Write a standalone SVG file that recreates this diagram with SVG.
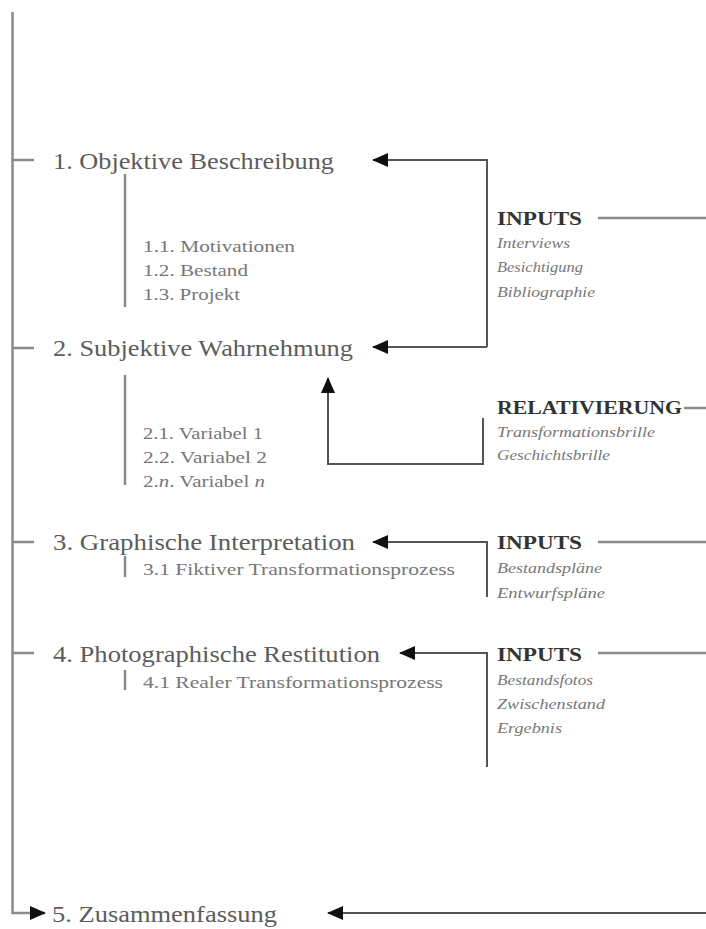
<svg xmlns="http://www.w3.org/2000/svg" width="706" height="929" viewBox="0 0 706 929">
<style>
.h{font-family:"Liberation Serif","Times New Roman",serif;font-size:23px;fill:#5c5c5c}
.s{font-family:"Liberation Serif","Times New Roman",serif;font-size:17px;fill:#777}
.b{font-family:"Liberation Serif","Times New Roman",serif;font-size:18px;font-weight:bold;fill:#333}
.i{font-family:"Liberation Serif","Times New Roman",serif;font-size:14px;font-style:italic;fill:#777}
.ln{stroke:#8a8a8a;stroke-width:2.5;fill:none}
.ar{stroke:#555;stroke-width:2;fill:none}
</style>
<defs>
<marker id="ah" viewBox="0 0 16 14" refX="15" refY="7" markerWidth="16" markerHeight="14" markerUnits="userSpaceOnUse" orient="auto">
<path d="M0,0 L16,7 L0,14 z" fill="#111"/>
</marker>
</defs>
<g id="connectors">
<path class="ln" d="M12.5,12 V913 H45" marker-end="url(#ah)"/>
<line class="ln" x1="12" y1="160" x2="34" y2="160"/>
<line class="ln" x1="12" y1="348" x2="34" y2="348"/>
<line class="ln" x1="12" y1="542" x2="34" y2="542"/>
<line class="ln" x1="12" y1="653" x2="34" y2="653"/>
<line class="ln" x1="125" y1="174" x2="125" y2="307"/>
<line class="ln" x1="125" y1="375" x2="125" y2="485"/>
<line class="ln" x1="125" y1="556" x2="125" y2="577"/>
<line class="ln" x1="125" y1="670" x2="125" y2="690"/>
<path class="ar" d="M487,347 H373" marker-end="url(#ah)"/>
<path class="ar" d="M487,347 V160 H373" marker-end="url(#ah)"/>
<line class="ln" x1="598" y1="218" x2="706" y2="218"/>
<path class="ar" d="M483,418 V464 H328 V378" marker-end="url(#ah)"/>
<line class="ln" x1="684" y1="408" x2="706" y2="408"/>
<path class="ar" d="M487,597 V542 H373" marker-end="url(#ah)"/>
<line class="ln" x1="598" y1="542" x2="706" y2="542"/>
<path class="ar" d="M487,767 V653 H400" marker-end="url(#ah)"/>
<line class="ln" x1="598" y1="653" x2="706" y2="653"/>
<path class="ar" d="M706,913 H328" marker-end="url(#ah)"/>
</g>
<g id="n1">
<text class="h" x="53" y="169" textLength="281" lengthAdjust="spacingAndGlyphs">1. Objektive Beschreibung</text>
<text class="s" x="143" y="252" textLength="152" lengthAdjust="spacingAndGlyphs">1.1. Motivationen</text>
<text class="s" x="143" y="276" textLength="105" lengthAdjust="spacingAndGlyphs">1.2. Bestand</text>
<text class="s" x="143" y="300" textLength="97" lengthAdjust="spacingAndGlyphs">1.3. Projekt</text>
</g>
<g id="n2">
<text class="h" x="53" y="356" textLength="300" lengthAdjust="spacingAndGlyphs">2. Subjektive Wahrnehmung</text>
<text class="s" x="143" y="439" textLength="120" lengthAdjust="spacingAndGlyphs">2.1. Variabel 1</text>
<text class="s" x="143" y="463" textLength="124" lengthAdjust="spacingAndGlyphs">2.2. Variabel 2</text>
<text class="s" x="143" y="487" textLength="122" lengthAdjust="spacingAndGlyphs">2.<tspan font-style="italic">n</tspan>. Variabel <tspan font-style="italic">n</tspan></text>
</g>
<g id="n3">
<text class="h" x="53" y="550" textLength="302" lengthAdjust="spacingAndGlyphs">3. Graphische Interpretation</text>
<text class="s" x="143" y="575" textLength="312" lengthAdjust="spacingAndGlyphs">3.1 Fiktiver Transformationsprozess</text>
</g>
<g id="n4">
<text class="h" x="53" y="662" textLength="327" lengthAdjust="spacingAndGlyphs">4. Photographische Restitution</text>
<text class="s" x="143" y="688" textLength="300" lengthAdjust="spacingAndGlyphs">4.1 Realer Transformationsprozess</text>
</g>
<g id="n5">
<text class="h" x="52" y="922" textLength="225" lengthAdjust="spacingAndGlyphs">5. Zusammenfassung</text>
</g>
<g id="inputs1">
<text class="b" x="497" y="225" textLength="85" lengthAdjust="spacingAndGlyphs">INPUTS</text>
<text class="i" x="497" y="248" textLength="73" lengthAdjust="spacingAndGlyphs">Interviews</text>
<text class="i" x="497" y="272" textLength="86" lengthAdjust="spacingAndGlyphs">Besichtigung</text>
<text class="i" x="497" y="297" textLength="98" lengthAdjust="spacingAndGlyphs">Bibliographie</text>
</g>
<g id="relativierung">
<text class="b" x="497" y="414" textLength="185" lengthAdjust="spacingAndGlyphs">RELATIVIERUNG</text>
<text class="i" x="497" y="437" textLength="158" lengthAdjust="spacingAndGlyphs">Transformationsbrille</text>
<text class="i" x="497" y="460" textLength="113" lengthAdjust="spacingAndGlyphs">Geschichtsbrille</text>
</g>
<g id="inputs3">
<text class="b" x="497" y="549" textLength="85" lengthAdjust="spacingAndGlyphs">INPUTS</text>
<text class="i" x="497" y="573" textLength="105" lengthAdjust="spacingAndGlyphs">Bestandspläne</text>
<text class="i" x="497" y="598" textLength="108" lengthAdjust="spacingAndGlyphs">Entwurfspläne</text>
</g>
<g id="inputs4">
<text class="b" x="497" y="661" textLength="85" lengthAdjust="spacingAndGlyphs">INPUTS</text>
<text class="i" x="497" y="685" textLength="96" lengthAdjust="spacingAndGlyphs">Bestandsfotos</text>
<text class="i" x="497" y="709" textLength="108" lengthAdjust="spacingAndGlyphs">Zwischenstand</text>
<text class="i" x="497" y="733" textLength="65" lengthAdjust="spacingAndGlyphs">Ergebnis</text>
</g>
</svg>
